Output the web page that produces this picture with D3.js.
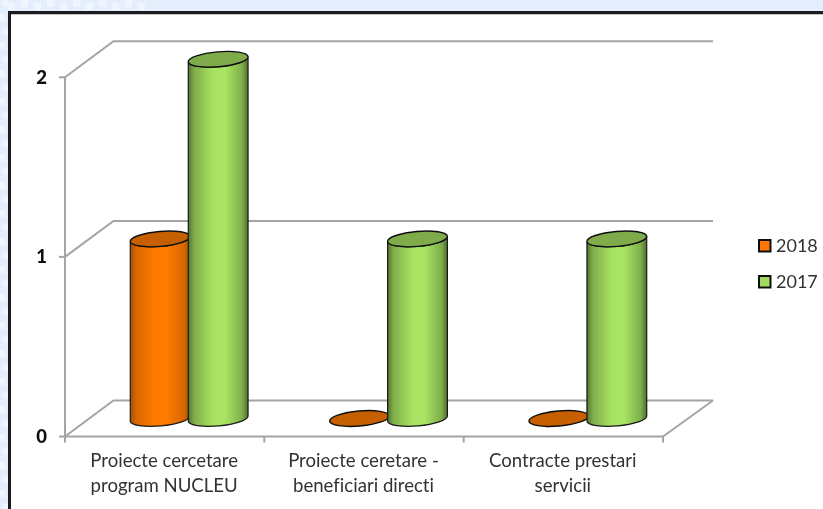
<!DOCTYPE html>
<html><head><meta charset="utf-8">
<script src="https://cdnjs.cloudflare.com/ajax/libs/d3/7.8.5/d3.min.js"></script>
<style>html,body{margin:0;padding:0;background:#e4eefd;overflow:hidden}svg{display:block}text{font-family:Lato,"Open Sans",sans-serif;font-variant-ligatures:none}</style>
</head><body><div id="c"></div>
<script>
const categories = [["Proiecte cercetare","program NUCLEU"],["Proiecte ceretare -","beneficiari directi"],["Contracte prestari","servicii"]];
const seriesNames = ["2018","2017"];
const values2018 = [1,0,0];
const values2017 = [2,1,1];
const yTicks = [0,1,2];

const W=823,H=509;
const svg=d3.select("#c").append("svg").attr("width",W).attr("height",H);
const defs=svg.append("defs");
function grad(id,stops){
  const g=defs.append("linearGradient").attr("id",id);
  stops.forEach(s=>g.append("stop").attr("offset",s[0]).attr("stop-color",s[1]));
}
grad("gO",[[0,"#a85000"],[.1,"#d66700"],[.4,"#ff7a00"],[.62,"#ff7a00"],[.9,"#d66700"],[1,"#a85000"]]);
grad("gG",[[0,"#55752f"],[.1,"#7fae4c"],[.42,"#a8e462"],[.62,"#a8e462"],[.9,"#7fae4c"],[1,"#4f6d2c"]]);
const blur=defs.append("filter").attr("id","soft").attr("x","-2%").attr("width","104%").attr("y","-2%").attr("height","104%");
blur.append("feGaussianBlur").attr("stdDeviation",0.4);

// backdrop texture along the page's edge
const bg=svg.append("g").attr("filter","url(#soft)");
d3.range(0,H,14).forEach((y,i)=>{
  bg.append("rect").attr("x",i%2?0:3).attr("y",y).attr("width",5).attr("height",7).attr("fill","#f1f6fe");
});
d3.range(8,146,13).forEach((x,i)=>{
  bg.append("rect").attr("x",x).attr("y",i%2?0:3).attr("width",7).attr("height",7).attr("fill","#f1f6fe");
});
svg.append("rect").attr("x",9.5).attr("y",12.5).attr("width",W+20).attr("height",H+20)
  .attr("fill","#fff").attr("stroke","#1c1c20").attr("stroke-width",3);
svg.append("rect").attr("x",11).attr("y",14).attr("width",W).attr("height",1).attr("fill","#c4c4c4");

const chart=svg.append("g").attr("filter","url(#soft)");
const x=d3.scaleBand().domain(d3.range(categories.length)).range([65,663]);
const y=d3.scaleLinear().domain([0,2]).range([436.5,77.3]);
const backX=d3.scaleLinear().domain([65,663]).range([113.5,713]);
const depthY=-36;
const sub=d3.scaleBand().domain(seriesNames).range([-57.5,58.5]);
const rx=sub.bandwidth()/2+1, ry=7.5;

const gr=chart.append("g").attr("fill","none").attr("stroke","#a4a4a4").attr("stroke-width",2);
const line=d3.line();
yTicks.forEach(t=>{
  gr.append("path").attr("d",line([[65,y(t)],[backX(65),y(t)+depthY],[backX(663),y(t)+depthY]]));
});
gr.append("path").attr("d",line([[663,y(0)],[backX(663),y(0)+depthY]]));
gr.append("path").attr("d",line([[65,y(0)],[65,y(2)]]));
gr.append("path").attr("d",line([[65,y(0)],[663,y(0)]]));
yTicks.forEach(t=>gr.append("path").attr("d",line([[59,y(t)],[65,y(t)]])));
[0,1,2,3].forEach(i=>{
  const px=i<3?x(i):x.range()[1];
  gr.append("path").attr("d",line([[px,y(0)],[px,y(0)+6]]));
});

chart.append("g").selectAll("text").data(yTicks).join("text")
  .attr("x",47).attr("y",d=>y(d)+6.5).attr("text-anchor","end")
  .attr("font-size",18.5).attr("font-weight",900).attr("fill","#111").text(d=>d);

const cats=chart.append("g").attr("font-size",18.6).attr("fill","#333").attr("text-anchor","middle");
categories.forEach((c,i)=>c.forEach((l,j)=>{
  cats.append("text").attr("x",x(i)+x.bandwidth()/2-0.5).attr("y",467+j*24.5).text(l);
}));

const ellipse=(g,cx,cy,f)=>g.append("ellipse").attr("cx",cx).attr("cy",cy).attr("rx",rx).attr("ry",ry)
  .attr("transform",`rotate(-5 ${cx} ${cy})`).attr("fill",f).attr("stroke","#111").attr("stroke-width",1.4);
function cyl(cx,v,gradId,lid){
  const g=chart.append("g");
  const cb=y(0)+depthY/2, ct=y(v)+depthY/2;
  if(v===0){ ellipse(g,cx,cb,lid); return; }
  const a=5*Math.PI/180, ex=rx*Math.cos(a), ey=rx*Math.sin(a);
  const d=`M${cx-ex},${ct+ey} L${cx-ex},${cb+ey} A${rx},${ry} -5 0 0 ${cx+ex},${cb-ey} L${cx+ex},${ct-ey} A${rx},${ry} -5 0 1 ${cx-ex},${ct+ey} Z`;
  g.append("path").attr("d",d).attr("fill",`url(#${gradId})`).attr("stroke","#1a1a1a").attr("stroke-width",1.2);
  ellipse(g,cx,ct,lid);
}
const centre=i=>x(i)+x.bandwidth()/2+24;
categories.forEach((c,i)=>{
  cyl(centre(i)+sub("2018")+sub.bandwidth()/2,values2018[i],"gO","#c65f00");
  cyl(centre(i)+sub("2017")+sub.bandwidth()/2,values2017[i],"gG","#7fab4b");
});

const lg=chart.append("g");
seriesNames.forEach((s,i)=>{
  const ly=246+i*36;
  lg.append("rect").attr("x",759).attr("y",ly-6).attr("width",11.5).attr("height",11.5)
    .attr("fill",s==="2018"?"#ff7600":"#a0d95c").attr("stroke","#111").attr("stroke-width",2);
  lg.append("text").attr("x",776).attr("y",ly+6).attr("font-size",18).attr("fill","#333").text(s);
});
</script></body></html>
